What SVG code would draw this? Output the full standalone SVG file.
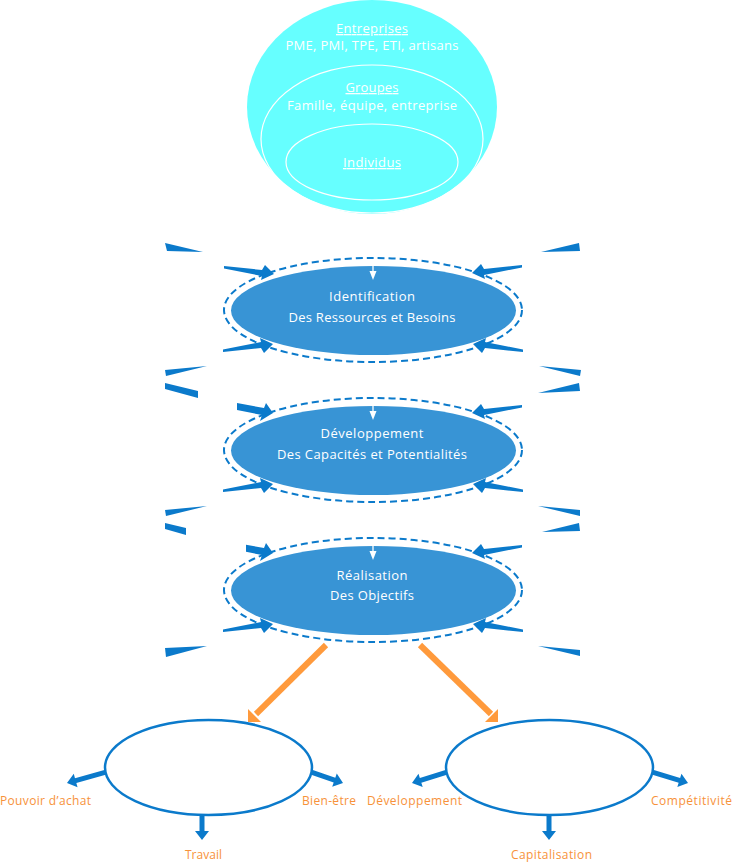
<svg xmlns="http://www.w3.org/2000/svg" width="732" height="862" viewBox="0 0 732 862">
<style>
text{font-family:"Open Sans","Liberation Sans",sans-serif;}
.w{fill:#fff;font-size:13px;text-anchor:middle;font-weight:500}
.u{text-decoration:underline}
.o{fill:#F7923A;font-size:12px;font-weight:500}
.blue{fill:#0B7ACB}
.dash{fill:none;stroke:#0B7ACB;stroke-width:2;stroke-dasharray:7 4}
.core{fill:#3894D5}
.ring{fill:none;stroke:#fff;stroke-width:1.2}
.res{fill:#fff;stroke:#0B7ACB;stroke-width:2.5}
.orl{stroke:#FF9A3C;stroke-width:6;fill:none}
.orh{fill:#FF9A3C}
.wl{stroke:#fff;stroke-width:1.3}
.wh{fill:#fff}
</style>
<defs>
<polygon id="tA" points="-50,-8 -12,-4 -9,-9 0,0 -13,6 -12,2 -50,-5.5"/>
<polygon id="tB" points="-36,-10 -9,-5 -7,-10 0,0 -13,8 -11,2 -36,-3"/>
<polygon id="tC" points="-27,-8.3 -9,-5 -7,-10 0,0 -13,8 -11,2 -27,-1.2"/>
<path id="sa" d="M-45,-2.5 H-9 V-7 L0,0 L-9,7 V2.5 H-45 Z"/>
</defs>

<g id="contexte">
  <g id="entreprises">
    <ellipse cx="372" cy="107" rx="125" ry="107" fill="#66FFFF"/>
    <text class="w u" x="372" y="33" textLength="72">Entreprises</text>
    <text class="w" x="372" y="50" textLength="173">PME, PMI, TPE, ETI, artisans</text>
  </g>
  <g id="groupes">
    <ellipse class="ring" cx="372" cy="139" rx="111" ry="74"/>
    <text class="w u" x="372" y="92" textLength="53">Groupes</text>
    <text class="w" x="372" y="110" textLength="170">Famille, équipe, entreprise</text>
  </g>
  <g id="individus">
    <ellipse class="ring" cx="372" cy="162" rx="86" ry="38"/>
    <text class="w u" x="372" y="167" textLength="58">Individus</text>
  </g>
</g>

<g id="connecteurs">
  <g class="blue">
    <polygon points="165,243 203,252 167,251"/>
    <polygon points="165,370 207,366 166,376"/>
    <polygon points="165,383 198,391 198,398 165,389"/>
    <polygon points="165,510 207,506 166,516"/>
    <polygon points="165,523 186,528 186,535 165,529"/>
    <polygon points="165,648 207,646 166,657"/>
    <polygon points="541,252 579,243 580,251"/>
    <polygon points="539,366 581,370 580,376"/>
    <polygon points="538,393 579,383 580,391"/>
    <polygon points="538,506 580,510 580,516"/>
    <polygon points="542,532 579,523 580,531"/>
    <polygon points="538,646 580,650 580,656"/>

    <use href="#tA" transform="translate(274,274)"/>
    <use href="#tA" transform="translate(472,273) scale(-1,1)"/>
    <use href="#tA" transform="translate(273,344) scale(1,-1)"/>
    <use href="#tA" transform="translate(473,344) scale(-1,-1)"/>

    <use href="#tB" transform="translate(273,413)"/>
    <use href="#tA" transform="translate(472,413) scale(-1,1)"/>
    <use href="#tA" transform="translate(273,484) scale(1,-1)"/>
    <use href="#tA" transform="translate(473,484) scale(-1,-1)"/>

    <use href="#tC" transform="translate(273,553)"/>
    <use href="#tA" transform="translate(472,553) scale(-1,1)"/>
    <use href="#tA" transform="translate(273,624) scale(1,-1)"/>
    <use href="#tA" transform="translate(473,624) scale(-1,-1)"/>

    <use href="#sa" transform="translate(67,783) rotate(164.3)"/>
    <use href="#sa" transform="translate(343,783) rotate(19)"/>
    <use href="#sa" transform="translate(202,840) rotate(90)"/>
    <use href="#sa" transform="translate(412,783) rotate(162.6)"/>
    <use href="#sa" transform="translate(688,783) rotate(17)"/>
    <use href="#sa" transform="translate(549,840) rotate(90)"/>
  </g>
  <line class="orl" x1="326" y1="645" x2="256" y2="714"/>
  <polygon class="orh" points="248,722 248,709 261,722"/>
  <line class="orl" x1="420" y1="645" x2="491" y2="714"/>
  <polygon class="orh" points="498,722 498,709 485,722"/>
</g>

<g id="identification">
  <ellipse class="dash" cx="373" cy="310" rx="149" ry="52"/>
  <ellipse class="core" cx="373.5" cy="310.5" rx="142.5" ry="44.5"/>
  <line class="wl" x1="373" y1="264" x2="373" y2="272"/>
  <polygon class="wh" points="369.5,271 376.5,271 373,280"/>
  <text class="w" x="372" y="301" textLength="86">Identification</text>
  <text class="w" x="372" y="322" textLength="167">Des Ressources et Besoins</text>
</g>

<g id="developpement">
  <ellipse class="dash" cx="373" cy="450" rx="149" ry="52"/>
  <ellipse class="core" cx="373.5" cy="450.5" rx="142.5" ry="44.5"/>
  <line class="wl" x1="373" y1="404" x2="373" y2="412"/>
  <polygon class="wh" points="369.5,411 376.5,411 373,420"/>
  <text class="w" x="372" y="438" textLength="103">Développement</text>
  <text class="w" x="372" y="459" textLength="190">Des Capacités et Potentialités</text>
</g>

<g id="realisation">
  <ellipse class="dash" cx="373" cy="590" rx="149" ry="52"/>
  <ellipse class="core" cx="373.5" cy="590.5" rx="142.5" ry="44.5"/>
  <line class="wl" x1="373" y1="544" x2="373" y2="552"/>
  <polygon class="wh" points="369.5,551 376.5,551 373,560"/>
  <text class="w" x="372" y="580" textLength="71">Réalisation</text>
  <text class="w" x="372" y="600" textLength="84">Des Objectifs</text>
</g>

<g id="resultat-individu">
  <ellipse class="res" cx="208.5" cy="767.5" rx="103.5" ry="47.5"/>
  <text class="o" x="0" y="805" textLength="91">Pouvoir d’achat</text>
  <text class="o" x="302" y="805" textLength="54">Bien-être</text>
  <text class="o" x="185" y="859" textLength="37">Travail</text>
</g>

<g id="resultat-entreprise">
  <ellipse class="res" cx="549.5" cy="767.5" rx="103.5" ry="47.5"/>
  <text class="o" x="367" y="805" textLength="95">Développement</text>
  <text class="o" x="651" y="805" textLength="81">Compétitivité</text>
  <text class="o" x="511" y="859" textLength="81">Capitalisation</text>
</g>
</svg>
